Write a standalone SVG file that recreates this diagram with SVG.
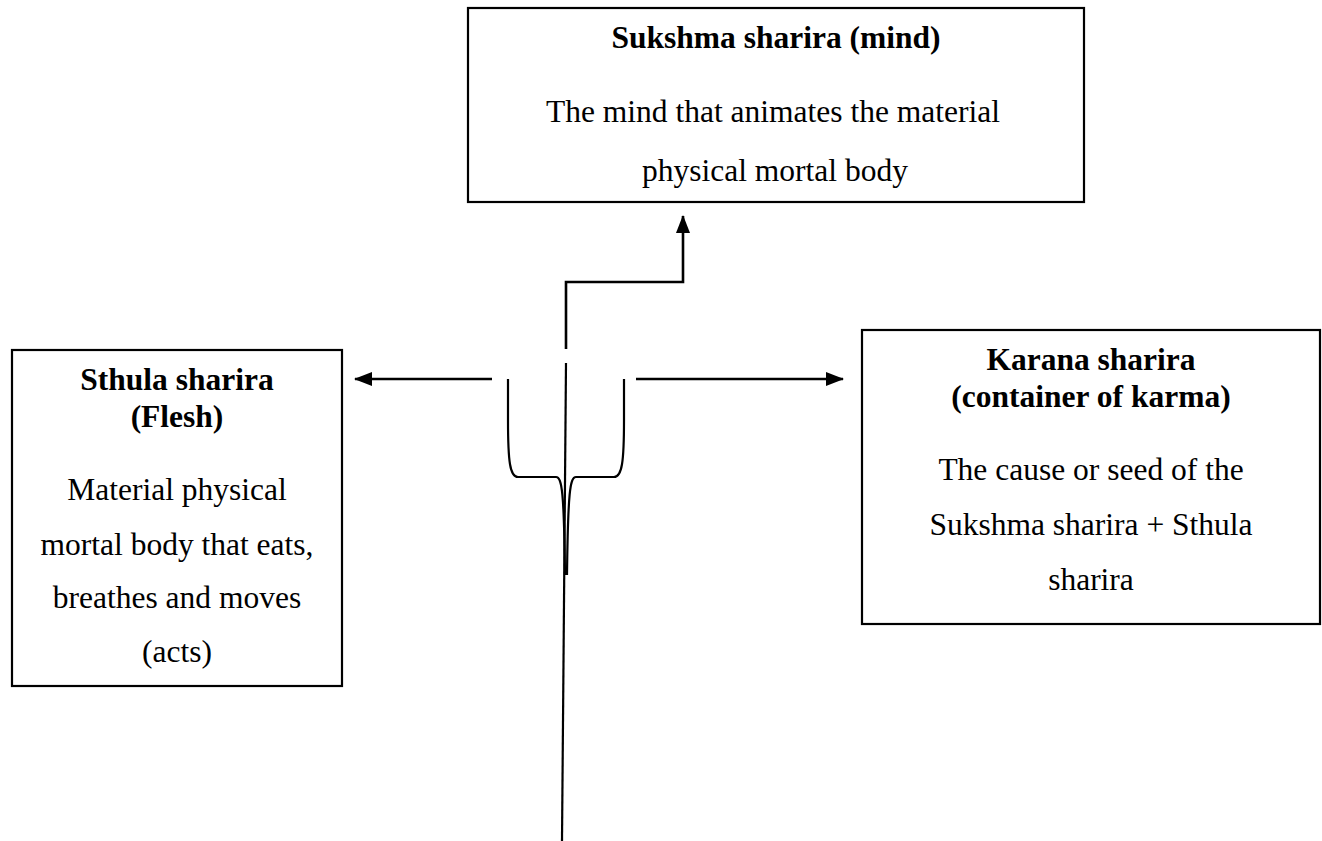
<svg xmlns="http://www.w3.org/2000/svg" width="1322" height="841" viewBox="0 0 1322 841">
  <style>
    .box { fill: #ffffff; stroke: #000000; stroke-width: 2.2; }
    text { font-family: "Liberation Serif", "Times New Roman", serif; font-size: 31.5px; fill: #000000; text-anchor: middle; }
    .title { font-weight: bold; }
    .conn { fill: none; stroke: #000000; stroke-width: 2.6; }
    .brace { fill: none; stroke: #000000; stroke-width: 2.2; }
  </style>
  <defs>
    <marker id="arrow" viewBox="0 0 18 14" refX="17" refY="7" markerWidth="18" markerHeight="14" markerUnits="userSpaceOnUse" orient="auto">
      <path d="M0,0 L18,7 L0,14 Z" fill="#000000"/>
    </marker>
  </defs>
  <rect width="1322" height="841" fill="#ffffff"/>

  <g id="sukshma">
    <rect class="box" x="468" y="8" width="616" height="194"/>
    <text class="title" x="776" y="48">Sukshma sharira (mind)</text>
    <text x="773" y="122">The mind that animates the material</text>
    <text x="775" y="181">physical mortal body</text>
  </g>

  <g id="sthula">
    <rect class="box" x="12" y="350" width="330" height="336"/>
    <text class="title" x="177" y="390">Sthula sharira</text>
    <text class="title" x="177" y="427">(Flesh)</text>
    <text x="177" y="500">Material physical</text>
    <text x="177" y="555">mortal body that eats,</text>
    <text x="177" y="608">breathes and moves</text>
    <text x="177" y="662">(acts)</text>
  </g>

  <g id="karana">
    <rect class="box" x="862" y="330" width="458" height="294"/>
    <text class="title" x="1091" y="370">Karana sharira</text>
    <text class="title" x="1091" y="407">(container of karma)</text>
    <text x="1091" y="480">The cause or seed of the</text>
    <text x="1091" y="535">Sukshma sharira + Sthula</text>
    <text x="1091" y="590">sharira</text>
  </g>

  <g id="connectors">
    <!-- elbow up to the mind -->
    <path class="conn" d="M566,349 V282 H683 V216" marker-end="url(#arrow)"/>
    <!-- left and right branches -->
    <path class="conn" d="M492,379 H355" marker-end="url(#arrow)"/>
    <path class="conn" d="M636,379 H843" marker-end="url(#arrow)"/>
    <!-- trunk -->
    <path class="conn" d="M566,363 L562,841" style="stroke-width:2.2"/>
    <!-- root brace -->
    <path class="brace" d="M508,379 V420 C508,462 510,477 518,477 H556 C562,477 564,492 565,575"/>
    <path class="brace" d="M624,379 V420 C624,462 622,477 614,477 H576 C570,477 568,492 567,575"/>
  </g>
</svg>
